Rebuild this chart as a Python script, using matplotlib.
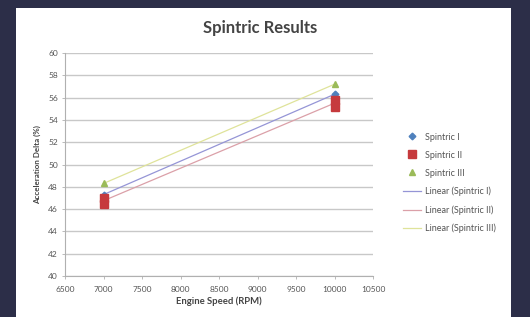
import numpy as np
import matplotlib
matplotlib.use("Agg")
import matplotlib.pyplot as plt
from matplotlib.patches import Rectangle

plt.rcParams['font.family'] = ['Lato', 'DejaVu Sans']

# data
rpm_i = [7000, 10000]
delta_i = [47.3, 56.3]
rpm_ii = [7000, 7000, 10000, 10000]
delta_ii = [46.5, 47.0, 55.2, 55.8]
rpm_iii = [7000, 10000]
delta_iii = [48.3, 57.2]

x_ticks = [6500, 7000, 7500, 8000, 8500, 9000, 9500, 10000, 10500]
y_ticks = list(range(40, 61, 2))

series = [
    ("Spintric I", rpm_i, delta_i, "D", "#4f81bd", 3.4, "#9595d6"),
    ("Spintric II", rpm_ii, delta_ii, "s", "#c63a3d", 6.0, "#dba0a8"),
    ("Spintric III", rpm_iii, delta_iii, "^", "#9bbb59", 4.2, "#dfe39a"),
]

fig = plt.figure(figsize=(5.3, 3.17), dpi=100)
fig.patch.set_facecolor("#2c2e48")
fig.patches.append(Rectangle((16 / 530, 0), (511 - 16) / 530, (317 - 8) / 317,
                             transform=fig.transFigure, facecolor="white",
                             edgecolor="none", zorder=-10))

ax = fig.add_axes([65 / 530, 41 / 317, 308 / 530, 223 / 317])
ax.set_zorder(1)
ax.set_facecolor("white")

handles_pts = []
handles_fit = []
for name, xs, ys, mk, col, ms, lcol in series:
    h, = ax.plot(xs, ys, linestyle="none", marker=mk, color=col, markersize=ms,
                 label=name, zorder=4)
    handles_pts.append(h)
    k, b = np.polyfit(xs, ys, 1)
    xf = np.array([min(xs), max(xs)])
    f, = ax.plot(xf, k * xf + b, color=lcol, lw=0.9, label=f"Linear ({name})", zorder=3)
    handles_fit.append(f)

ax.set_xlim(6500, 10500)
ax.set_ylim(40, 60)
ax.set_xticks(x_ticks)
ax.set_yticks(y_ticks)
ax.grid(axis="y", color="#c8c8c8", lw=1.0)
ax.set_axisbelow(True)
for s in ["top", "right"]:
    ax.spines[s].set_visible(False)
for s in ["left", "bottom"]:
    ax.spines[s].set_color("#b0b0b0")
ax.tick_params(axis="both", labelsize=6, colors="#b0b0b0", labelcolor="#555555",
               length=2, width=0.6, direction="out", pad=3)
ax.tick_params(axis="x", pad=5)

ax.set_xlabel("Engine Speed (RPM)", fontsize=6.8, fontweight="bold", color="#444444", labelpad=3)
ax.set_ylabel("Acceleration Delta (%)", fontsize=5.8, fontweight="bold", color="#444444", labelpad=5)
fig.text(260 / 530, 1 - 28 / 317, "Spintric Results", ha="center", va="center",
         fontsize=12, fontweight="bold", color="#444444")

fig.legend(handles=handles_pts + handles_fit, loc="upper left",
           bbox_to_anchor=(398 / 530, 1 - 128 / 317), frameon=False,
           fontsize=6.5, labelspacing=1.0, handlelength=2.0, handletextpad=0.5,
           borderpad=0.0, labelcolor="#555555")

fig.savefig("out.png", dpi=100, facecolor=fig.get_facecolor())
